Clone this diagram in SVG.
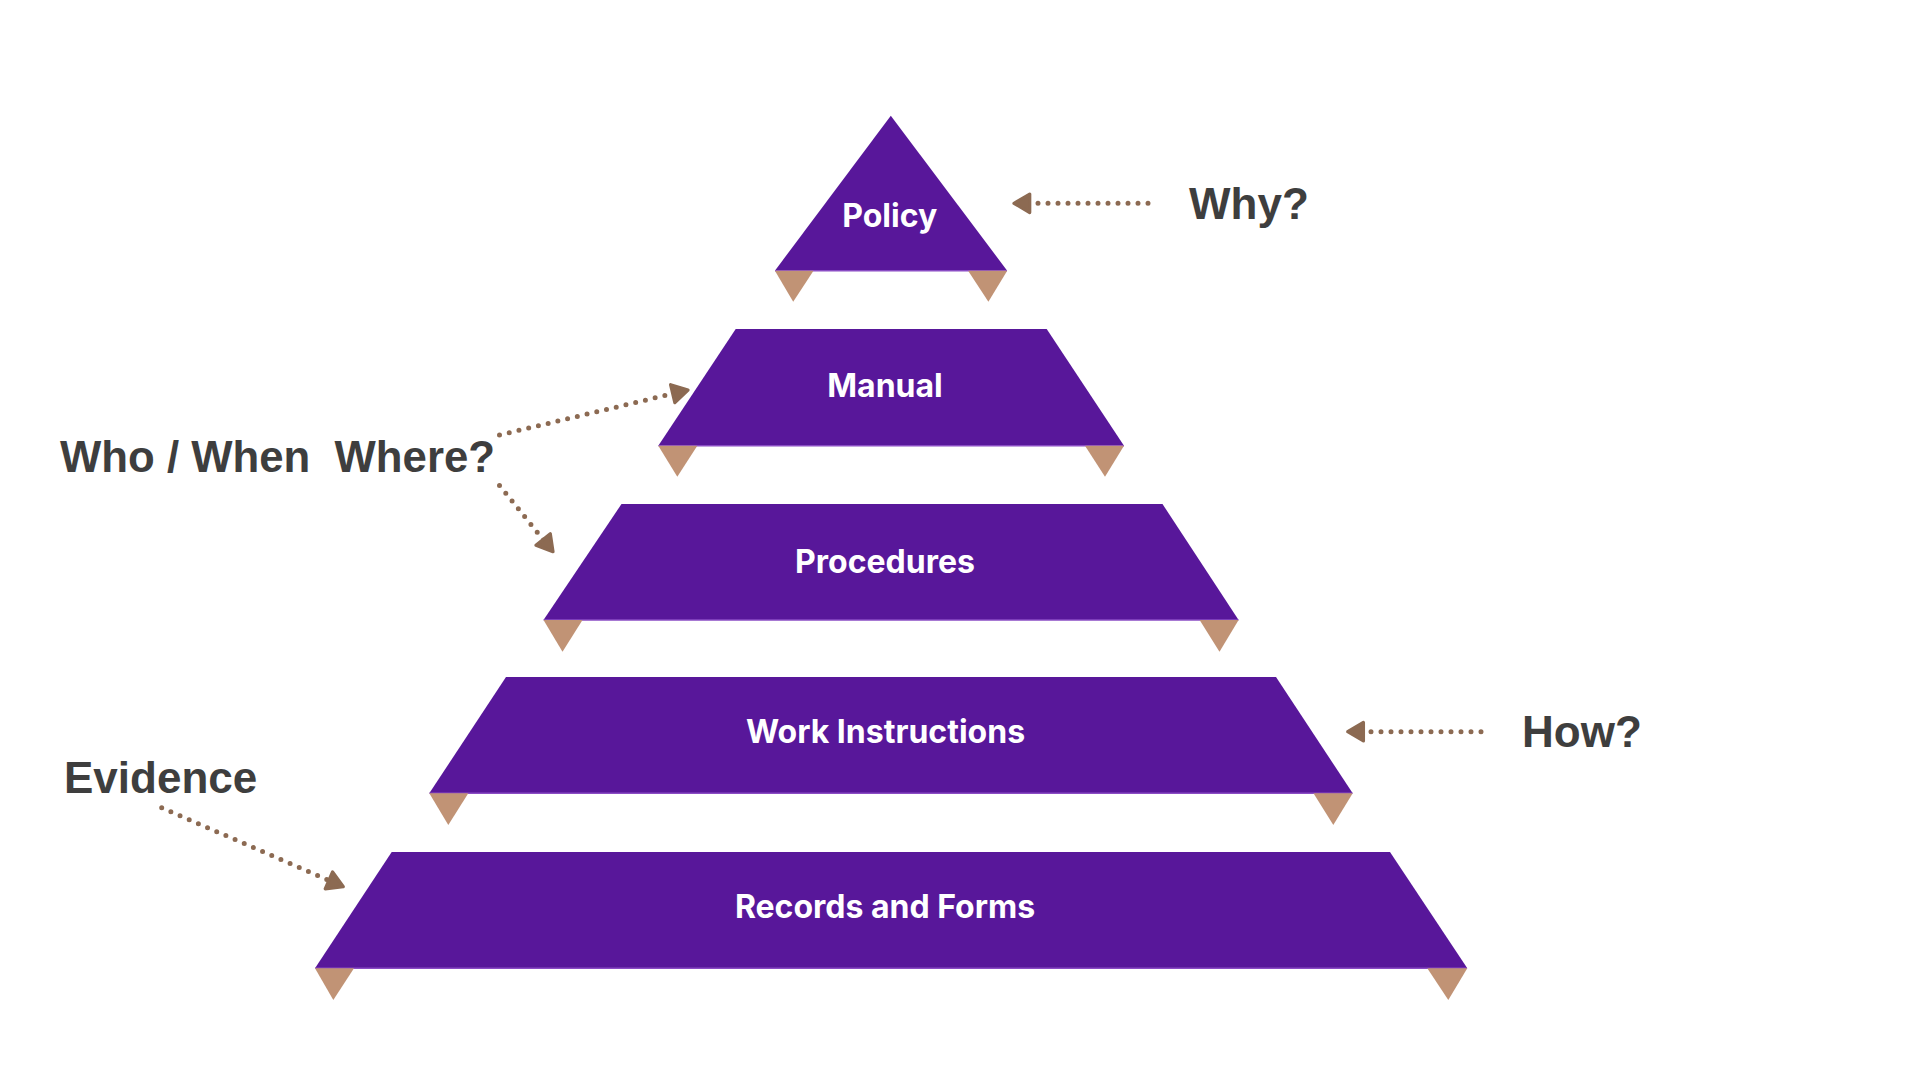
<svg xmlns="http://www.w3.org/2000/svg" width="1920" height="1080" viewBox="0 0 1920 1080">
<style>
.tier{fill:#58179a}
.edge{stroke:#8a4cc4;stroke-width:1.5;fill:none}
.tab{fill:#c19375}
.lbl{font-family:Inter,"Liberation Sans",sans-serif;font-weight:700;font-size:32px;fill:#ffffff;text-anchor:middle}
.q{font-family:"Liberation Sans",Arial,sans-serif;font-weight:700;font-size:44px;fill:#3e3e3e}
.dots{fill:none;stroke:#8c6a52;stroke-width:5;stroke-linecap:round;stroke-dasharray:0 10}
</style>
<defs>
<marker id="ah" markerUnits="userSpaceOnUse" markerWidth="26" markerHeight="26" viewBox="-2 -2 22 24" refX="16" refY="10" orient="auto">
<path d="M1.5,1.5 L16,10 L1.5,18.5 Z" fill="#8c6a52" stroke="#8c6a52" stroke-width="3" stroke-linejoin="round"/>
</marker>
</defs>
<rect width="1920" height="1080" fill="#ffffff"/>

<g id="policy">
<polygon class="tier" points="890.8,115.7 1007.2,270.7 774.9,270.7"/>
<line class="edge" x1="775" y1="270.7" x2="1007" y2="270.7"/>
<polygon class="tab" points="774.9,270.7 813.5,270.7 793.2,301.7"/>
<polygon class="tab" points="968.1,270.7 1007.2,270.7 988.4,301.7"/>
<text class="lbl" x="889.7" y="226.7">Policy</text>
</g>

<g id="manual">
<polygon class="tier" points="735.7,329 1046.7,329 1124,445.7 658.3,445.7"/>
<line class="edge" x1="658.5" y1="445.7" x2="1124" y2="445.7"/>
<polygon class="tab" points="658.3,445.7 697.3,445.7 677.3,476.7"/>
<polygon class="tab" points="1085,445.7 1124,445.7 1105,476.7"/>
<text class="lbl" x="885" y="397.3">Manual</text>
</g>

<g id="procedures">
<polygon class="tier" points="621.5,504 1162.5,504 1238.6,620 543.5,620"/>
<line class="edge" x1="543.7" y1="620" x2="1238.4" y2="620"/>
<polygon class="tab" points="543.5,620 582.5,620 562.5,651.7"/>
<polygon class="tab" points="1199.6,620 1238.6,620 1219.5,651.7"/>
<text class="lbl" x="885" y="572.7">Procedures</text>
</g>

<g id="work-instructions">
<polygon class="tier" points="506,677 1276,677 1352.7,793.3 429.3,793.3"/>
<line class="edge" x1="429.5" y1="793.3" x2="1352.5" y2="793.3"/>
<polygon class="tab" points="429.3,793.3 468.3,793.3 448.3,825"/>
<polygon class="tab" points="1313.5,793.3 1352.7,793.3 1333.3,825"/>
<text class="lbl" x="885.5" y="742.7">Work Instructions</text>
</g>

<g id="records-and-forms">
<polygon class="tier" points="391.7,852 1390,852 1467.3,968.3 315,968.3"/>
<line class="edge" x1="315.2" y1="968.3" x2="1467" y2="968.3"/>
<polygon class="tab" points="315,968.3 354,968.3 333.3,1000"/>
<polygon class="tab" points="1427.3,968.3 1467.3,968.3 1448.3,1000"/>
<text class="lbl" x="885" y="918">Records and Forms</text>
</g>

<g id="why">
<text class="q" x="1189" y="219.3">Why?</text>
</g>
<g id="who-when-where">
<text class="q" x="60" y="472.3" textLength="435" lengthAdjust="spacingAndGlyphs" style="white-space:pre">Who / When  Where?</text>
</g>
<g id="how">
<text class="q" x="1522" y="747.3">How?</text>
</g>
<g id="evidence">
<text class="q" x="64" y="793.3">Evidence</text>
</g>

<g id="connectors">
<path class="dots" d="M1148,203.3 L1014,203.3" marker-end="url(#ah)"/>
<path class="dots" d="M499.5,435 L688,390" marker-end="url(#ah)"/>
<path class="dots" d="M499.5,485.5 L553,551.7" marker-end="url(#ah)"/>
<path class="dots" d="M1481,731.7 L1347.7,731.7" marker-end="url(#ah)"/>
<path class="dots" d="M161.7,807.7 L343.3,886.7" marker-end="url(#ah)"/>
</g>
</svg>
